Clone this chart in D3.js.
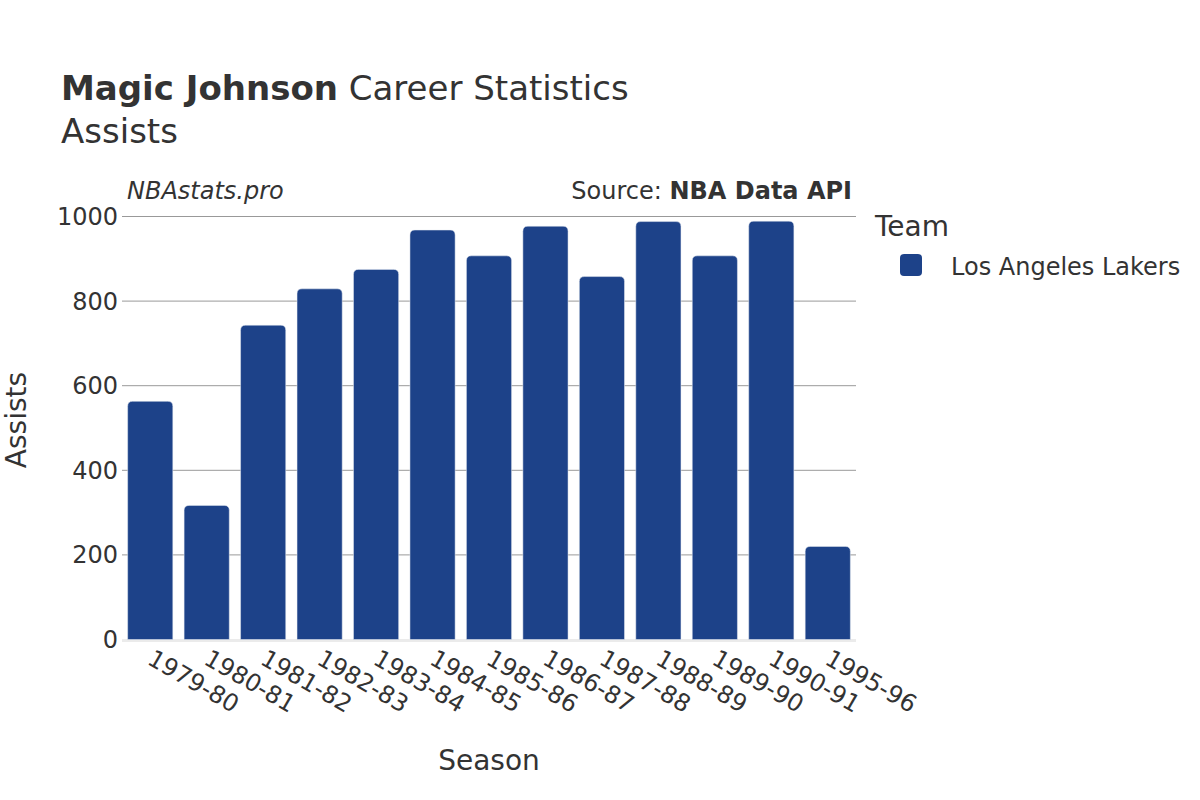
<!DOCTYPE html>
<html>
<head>
<meta charset="utf-8">
<script src="https://cdn.jsdelivr.net/npm/d3@7"></script>
<style>
  body { margin: 0; background: #fff; }
  text { font-family: "DejaVu Sans", sans-serif; fill: #333; }
</style>
</head>
<body>
<script>
var width = 1200;
var height = 800;

var seasons = ["1979-80", "1980-81", "1981-82", "1982-83", "1983-84", "1984-85", "1985-86",
               "1986-87", "1987-88", "1988-89", "1989-90", "1990-91", "1995-96"];
var assists = [563, 317, 743, 829, 875, 968, 907, 977, 858, 988, 907, 989, 220];
var yTicks = [0, 200, 400, 600, 800, 1000];
var team = "Los Angeles Lakers";
var barColor = "#1d4289";

var svg = d3.select("body").append("svg")
    .attr("width", width)
    .attr("height", height);

var x = d3.scaleBand()
    .domain(seasons)
    .range([122, 856])
    .paddingInner(0.2)
    .paddingOuter(0.1);

var y = d3.scaleLinear()
    .domain([0, 1000])
    .range([639.5, 216.5]);

// gridlines
svg.selectAll(".grid")
    .data(yTicks.filter(function(d) { return d > 0; }))
    .enter().append("line")
    .attr("x1", 122).attr("x2", 856)
    .attr("y1", function(d) { return y(d); })
    .attr("y2", function(d) { return y(d); })
    .attr("stroke", "#999")
    .attr("stroke-width", 1);

// zero line
svg.append("line")
    .attr("x1", 122).attr("x2", 856)
    .attr("y1", y(0) + 1).attr("y2", y(0) + 1)
    .attr("stroke", "#ebebeb")
    .attr("stroke-width", 3);

function topRounded(x0, y0, w, h, r) {
    r = Math.min(r, h, w / 2);
    return "M" + x0 + "," + (y0 + h) +
        "V" + (y0 + r) +
        "Q" + x0 + "," + y0 + " " + (x0 + r) + "," + y0 +
        "H" + (x0 + w - r) +
        "Q" + (x0 + w) + "," + y0 + " " + (x0 + w) + "," + (y0 + r) +
        "V" + (y0 + h) + "Z";
}

svg.selectAll(".bar")
    .data(seasons)
    .enter().append("path")
    .attr("class", "bar")
    .attr("fill", barColor)
    .attr("stroke", "#e8ecf3")
    .attr("stroke-width", 0.5)
    .attr("d", function(d, i) {
        var top = y(assists[i]);
        return topRounded(x(d), top, x.bandwidth(), y(0) - top, 5);
    });

// y tick labels
svg.selectAll(".ytick")
    .data(yTicks)
    .enter().append("text")
    .attr("x", 118)
    .attr("y", function(d) { return y(d); })
    .attr("dy", "0.35em")
    .attr("text-anchor", "end")
    .style("font-size", "24px")
    .text(function(d) { return d; });

// x tick labels
svg.selectAll(".xtick")
    .data(seasons)
    .enter().append("text")
    .attr("transform", function(d) {
        return "translate(" + (x(d) + x.bandwidth() / 2 + 8) + ",650) rotate(30)";
    })
    .attr("x", -4)
    .attr("dy", "0.73em")
    .attr("text-anchor", "start")
    .style("font-size", "24px")
    .text(function(d) { return d; });

// titles
var title = svg.append("text")
    .attr("x", 61).attr("y", 100)
    .style("font-size", "34px");
title.append("tspan").style("font-weight", "bold").text("Magic Johnson");
title.append("tspan").text(" Career Statistics");

svg.append("text")
    .attr("x", 61).attr("y", 143)
    .style("font-size", "34px")
    .text("Assists");

svg.append("text")
    .attr("x", 127).attr("y", 199)
    .style("font-size", "24px")
    .style("font-style", "italic")
    .text("NBAstats.pro");

var src = svg.append("text")
    .attr("x", 852).attr("y", 199)
    .attr("text-anchor", "end")
    .style("font-size", "24px");
src.append("tspan").text("Source: ");
src.append("tspan").style("font-weight", "bold").text("NBA Data API");

// axis titles
svg.append("text")
    .attr("x", 489).attr("y", 770)
    .attr("text-anchor", "middle")
    .style("font-size", "28px")
    .text("Season");

svg.append("text")
    .attr("transform", "translate(26,420) rotate(-90)")
    .attr("text-anchor", "middle")
    .style("font-size", "28px")
    .text("Assists");

// legend
svg.append("text")
    .attr("x", 875).attr("y", 236)
    .style("font-size", "28px")
    .text("Team");

svg.append("rect")
    .attr("x", 900).attr("y", 254)
    .attr("width", 22).attr("height", 22)
    .attr("rx", 4)
    .attr("fill", barColor);

svg.append("text")
    .attr("x", 951).attr("y", 275)
    .style("font-size", "24px")
    .text(team);
</script>
</body>
</html>
